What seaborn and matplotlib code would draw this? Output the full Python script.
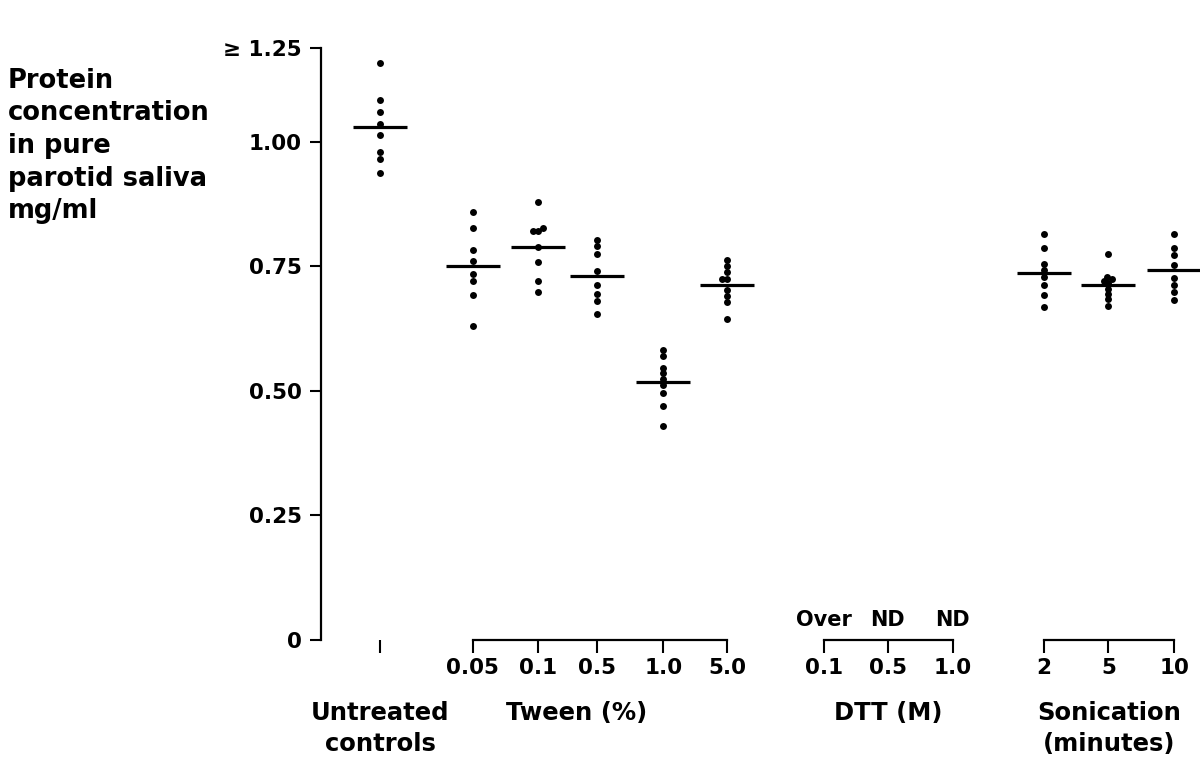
import numpy as np
import pandas as pd
import matplotlib
matplotlib.use("Agg")
import matplotlib.pyplot as plt
import matplotlib.transforms as mtransforms
from matplotlib.collections import PathCollection
import seaborn as sns

# Protein concentration in pure parotid saliva (mg/ml), one value per subject
controls = [1.157, 1.083, 1.060, 1.036, 1.013, 0.979, 0.965, 0.937]

tween_levels = ["0.05", "0.1", "0.5", "1.0", "5.0"]
tween_005 = [0.859, 0.827, 0.782, 0.760, 0.734, 0.720, 0.692, 0.630]
tween_01 = [0.878, 0.826, 0.821, 0.821, 0.788, 0.759, 0.720, 0.699]
tween_05 = [0.803, 0.790, 0.775, 0.740, 0.712, 0.695, 0.680, 0.655]
tween_10 = [0.582, 0.569, 0.546, 0.536, 0.524, 0.512, 0.495, 0.470, 0.430]
tween_50 = [0.762, 0.750, 0.738, 0.724, 0.724, 0.702, 0.690, 0.678, 0.644]

dtt_levels = ["0.1", "0.5", "1.0"]
dtt_notes = ["Over", "ND", "ND"]

sonication_levels = ["2", "5", "10"]
son_2 = [0.814, 0.786, 0.755, 0.742, 0.728, 0.712, 0.692, 0.668]
son_5 = [0.774, 0.728, 0.724, 0.720, 0.716, 0.705, 0.695, 0.685, 0.670]
son_10 = [0.814, 0.786, 0.772, 0.752, 0.726, 0.712, 0.698, 0.682]

y_ticks = [0, 0.25, 0.50, 0.75, 1.00]
y_tick_labels = ["0", "0.25", "0.50", "0.75", "1.00"]
top_tick_label = "\u2265 1.25"

ylabel_lines = ["Protein", "concentration", "in pure", "parotid saliva", "mg/ml"]

# ---- layout: horizontal slot of every group along the x axis ----
Y_TOP = 1.188
ctrl_pos = 0.0
tween_pos = [1.44, 2.45, 3.36, 4.39, 5.38]
dtt_pos = [6.88, 7.87, 8.88]
son_pos = [10.29, 11.29, 12.31]
HALF = 0.42
XLIM = (-0.915, 12.71)

groups = [(ctrl_pos, controls)]
groups += list(zip(tween_pos, [tween_005, tween_01, tween_05, tween_10, tween_50]))
groups += list(zip(son_pos, [son_2, son_5, son_10]))

df = pd.DataFrame(
    [(pos, v) for pos, vals in groups for v in vals], columns=["slot", "value"]
)

sns.set_theme(style="white")
plt.rcParams["font.family"] = ["DejaVu Sans"]
plt.rcParams["font.weight"] = "bold"
plt.rcParams["text.color"] = "black"

fig = plt.figure(figsize=(12, 7.59), dpi=100)
ax = fig.add_axes([321 / 1200, 119 / 759, 879 / 1200, 592 / 759])

# swarm laid out with a small footprint so only near-equal values sit side by side
sns.swarmplot(data=df, x="slot", y="value", native_scale=True, color="black",
              size=3.6, linewidth=0, ax=ax)
ax.set_xlim(*XLIM)
ax.set_ylim(0, Y_TOP)
fig.canvas.draw()
# freeze the computed swarm and draw the dots at full size
for coll in ax.collections:
    if isinstance(coll, PathCollection):
        if "draw" in coll.__dict__:
            del coll.draw
        coll.set_sizes([5.0 ** 2])

# mean bar for each group
for pos, vals in groups:
    ax.hlines(np.mean(vals), pos - HALF, pos + HALF, color="black", lw=2.3)

ax.set_xlim(*XLIM)
ax.set_ylim(0, Y_TOP)

# y axis
for s in ["top", "right", "bottom"]:
    ax.spines[s].set_visible(False)
ax.spines["left"].set_linewidth(1.6)
ax.spines["left"].set_color("black")
ax.set_yticks(y_ticks + [Y_TOP])
ax.set_yticklabels(y_tick_labels + [top_tick_label], fontsize=15.5, fontweight="bold")
ax.tick_params(axis="y", direction="out", length=8, width=1.5, pad=6, colors="black",
               left=True)

# x axis: bracket ticks for every slot
xt = [ctrl_pos] + tween_pos + dtt_pos + son_pos
xl = [""] + tween_levels + dtt_levels + sonication_levels
ax.set_xticks(xt)
ax.set_xticklabels(xl, fontsize=15.5, fontweight="bold")
ax.tick_params(axis="x", direction="out", length=9, width=1.5, pad=4, colors="black",
               bottom=True)
for seg in (tween_pos, dtt_pos, son_pos):
    ax.plot([seg[0], seg[-1]], [0, 0], color="black", lw=1.6, clip_on=False,
            solid_capstyle="projecting")

ax.set_xlabel("")
ax.set_ylabel("")

trans = mtransforms.blended_transform_factory(ax.transData, fig.transFigure)


def fy(px):
    return (759 - px) / 759


# notes above the DTT bracket
for pos, note in zip(dtt_pos, dtt_notes):
    ax.text(pos, fy(626), note, transform=trans, ha="center", va="baseline",
            fontsize=15, fontweight="bold", color="black")

# group captions
captions = [
    (ctrl_pos, ["Untreated", "controls"]),
    (3.04, ["Tween (%)"]),
    (np.mean(dtt_pos), ["DTT (M)"]),
    (np.mean(son_pos), ["Sonication", "(minutes)"]),
]
for x, lines in captions:
    for i, line in enumerate(lines):
        ax.text(x, fy(720 + 31 * i), line, transform=trans, ha="center",
                va="baseline", fontsize=17.5, fontweight="bold", color="black")

# y axis title, stacked at the left margin
for i, line in enumerate(ylabel_lines):
    fig.text(8 / 1200, fy(88 + 32.5 * i), line, ha="left", va="baseline",
             fontsize=18.5, fontweight="bold", color="black")

fig.savefig("out.png", dpi=100, facecolor="white")
